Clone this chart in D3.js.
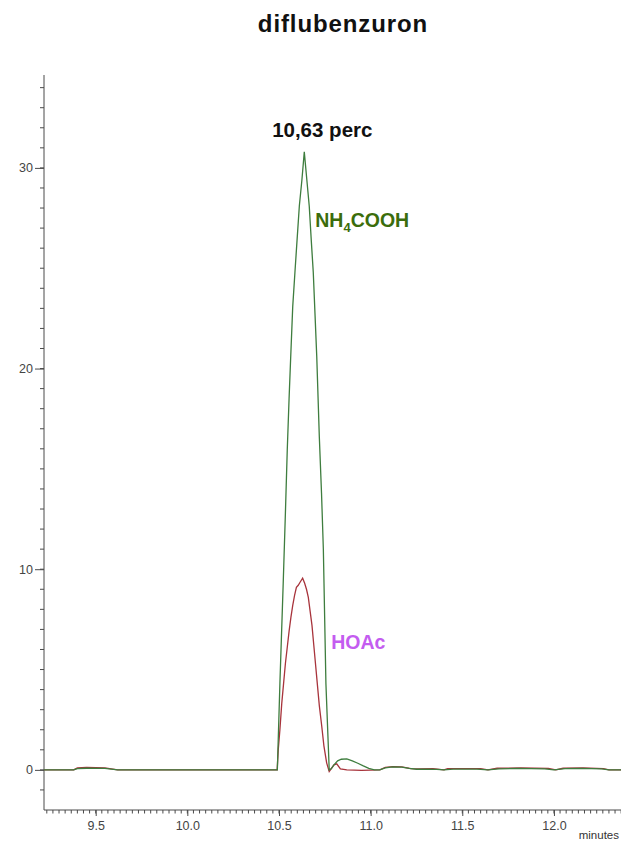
<!DOCTYPE html>
<html>
<head>
<meta charset="utf-8">
<script src="https://cdn.jsdelivr.net/npm/d3@7"></script>
<style>
  html, body { margin: 0; padding: 0; background: #fff; }
  svg { display: block; }
  .axis path, .axis line { stroke: #4a4a4a; }
  .axis text { fill: #444; font-family: "Liberation Sans", Arial, sans-serif; font-size: 12.5px; }
</style>
</head>
<body>
<svg id="chart" width="621" height="842"></svg>
<script>
const title = "diflubenzuron";
const peakLabel = "10,63 perc";
const seriesNames = ["NH4COOH", "HOAc"];
const xTicks = [9.5, 10.0, 10.5, 11.0, 11.5, 12.0];
const yTicks = [0, 10, 20, 30];
const xLabel = "minutes";

// NH4COOH trace (green) : [minutes, value]
const nh4cooh = [
  [9.218, 0], [9.38, 0], [9.40, 0.06], [9.45, 0.08], [9.55, 0.07], [9.62, 0],
  [10.491, 0], [10.505, 4.3], [10.523, 9.3], [10.535, 12.8], [10.545, 15.9],
  [10.555, 18.5], [10.564, 20.6], [10.575, 23.1], [10.587, 24.8], [10.600, 26.6],
  [10.611, 28.1], [10.625, 29.4], [10.638, 30.8], [10.652, 29.4], [10.665, 28.1],
  [10.676, 26.4], [10.687, 24.8], [10.697, 22.6], [10.706, 20.6], [10.720, 16.6],
  [10.732, 13.8], [10.742, 11.0], [10.756, 4.3], [10.774, 0], [10.785, 0.05],
  [10.80, 0.25], [10.82, 0.45], [10.84, 0.53], [10.87, 0.55], [10.90, 0.45],
  [10.93, 0.33], [10.96, 0.2], [10.99, 0.08], [11.02, 0], [11.05, 0],
  [11.08, 0.1], [11.12, 0.15], [11.17, 0.14], [11.21, 0.07], [11.25, 0.03],
  [11.30, 0.04], [11.36, 0.02], [11.40, 0], [11.45, 0.04], [11.58, 0.04],
  [11.64, 0], [11.70, 0.05], [11.80, 0.07], [11.95, 0.05], [12.00, 0],
  [12.06, 0.06], [12.15, 0.07], [12.26, 0.05], [12.30, 0], [12.45, 0]
];

// HOAc trace (red)
const hoac = [
  [9.218, 0], [9.38, 0], [9.40, 0.1], [9.45, 0.12], [9.55, 0.1], [9.62, 0],
  [10.490, 0], [10.496, 1.0], [10.505, 2.0], [10.515, 3.3], [10.525, 4.3],
  [10.535, 5.3], [10.545, 6.1], [10.555, 6.9], [10.565, 7.6], [10.575, 8.2],
  [10.585, 8.7], [10.595, 9.1], [10.605, 9.2], [10.615, 9.35], [10.629, 9.55],
  [10.64, 9.3], [10.65, 9.0], [10.66, 8.6], [10.67, 7.9], [10.68, 7.2],
  [10.69, 6.2], [10.70, 5.2], [10.71, 4.2], [10.72, 3.2], [10.733, 2.2],
  [10.745, 1.2], [10.76, 0.35], [10.774, -0.08], [10.80, 0.25], [10.815, 0.3],
  [10.835, 0.05], [10.87, 0], [10.95, -0.03], [11.05, 0], [11.08, 0.12],
  [11.12, 0.16], [11.17, 0.15], [11.22, 0.06], [11.26, 0.05], [11.34, 0.06],
  [11.40, 0], [11.42, 0.06], [11.60, 0.06], [11.64, 0], [11.69, 0.08],
  [11.82, 0.1], [11.97, 0.07], [12.01, 0], [12.05, 0.08], [12.16, 0.1],
  [12.27, 0.06], [12.30, 0], [12.45, 0]
];

const peakTime = 10.638;
const peakValue = 30.8;

const svg = d3.select("#chart");
const plotLeft = 44, plotTop = 75, axisY = 810;

// x: 183.3 px per minute
const x = d3.scaleLinear().domain([9.218, 12.40]).range([plotLeft, plotLeft + (12.40 - 9.218) * 183.3]);
const y = d3.scaleLinear().domain([-2, 34.63]).range([axisY, plotTop]);

// --- Title
svg.append("text")
  .attr("x", 343).attr("y", 32)
  .attr("text-anchor", "middle")
  .attr("font-family", "Liberation Sans, Arial, sans-serif")
  .attr("font-weight", "bold")
  .attr("font-size", "24px")
  .attr("letter-spacing", "0.9px")
  .attr("fill", "#111")
  .text(title);

// --- Axes
const xMinor = d3.range(277, 372).map(i => i / 30).filter(v => v >= 9.218);
const gx = svg.append("g").attr("class", "axis").attr("transform", `translate(0,${axisY})`);
gx.append("line").attr("x1", plotLeft).attr("x2", 640).attr("y1", 0).attr("y2", 0);
gx.selectAll("line.minor").data(xMinor).join("line")
  .attr("class", "minor")
  .attr("x1", d => x(d)).attr("x2", d => x(d))
  .attr("y1", 0).attr("y2", 3.5);
gx.call(d3.axisBottom(x).tickValues(xTicks).tickFormat(d3.format(".1f")).tickSize(6).tickPadding(5))
  .call(g => g.select(".domain").remove());

const yMinor = d3.range(-1, 35);
const gy = svg.append("g").attr("class", "axis").attr("transform", `translate(${plotLeft},0)`);
gy.append("line").attr("x1", 0).attr("x2", 0).attr("y1", plotTop).attr("y2", axisY);
gy.selectAll("line.minor").data(yMinor).join("line")
  .attr("class", "minor")
  .attr("x1", -4).attr("x2", 0)
  .attr("y1", d => y(d)).attr("y2", d => y(d));
gy.call(d3.axisLeft(y).tickValues(yTicks).tickSize(9).tickPadding(2))
  .call(g => g.select(".domain").remove());

svg.append("text")
  .attr("x", 619).attr("y", 839)
  .attr("text-anchor", "end")
  .attr("font-family", "Liberation Sans, Arial, sans-serif")
  .attr("font-size", "11.5px")
  .attr("fill", "#333")
  .text(xLabel);

// --- Traces
const line = d3.line().x(d => x(d[0])).y(d => y(d[1]));
svg.append("path").datum(hoac)
  .attr("fill", "none").attr("stroke", "#a8343c").attr("stroke-width", 1.3)
  .attr("d", line);
svg.append("path").datum(nh4cooh)
  .attr("fill", "none").attr("stroke", "#3e7d3e").attr("stroke-width", 1.3)
  .attr("d", line);

// --- Annotations
svg.append("text")
  .attr("x", x(peakTime) + 18).attr("y", y(peakValue) - 15)
  .attr("text-anchor", "middle")
  .attr("font-family", "Liberation Sans, Arial, sans-serif")
  .attr("font-weight", "bold")
  .attr("font-size", "20.5px")
  .attr("fill", "#111")
  .text(peakLabel);

const nh = svg.append("text")
  .attr("x", x(peakTime) + 11).attr("y", y(peakValue) + 75)
  .attr("font-family", "Liberation Sans, Arial, sans-serif")
  .attr("font-weight", "bold")
  .attr("font-size", "19.5px")
  .attr("fill", "#3b6d0c");
nh.append("tspan").text("NH");
nh.append("tspan").attr("font-size", "13px").attr("dy", 5).text("4");
nh.append("tspan").attr("dy", -5).text("COOH");

svg.append("text")
  .attr("x", x(peakTime) + 27).attr("y", y(6.03))
  .attr("font-family", "Liberation Sans, Arial, sans-serif")
  .attr("font-weight", "bold")
  .attr("font-size", "19.5px")
  .attr("fill", "#c45cf0")
  .text(seriesNames[1]);
</script>
</body>
</html>
